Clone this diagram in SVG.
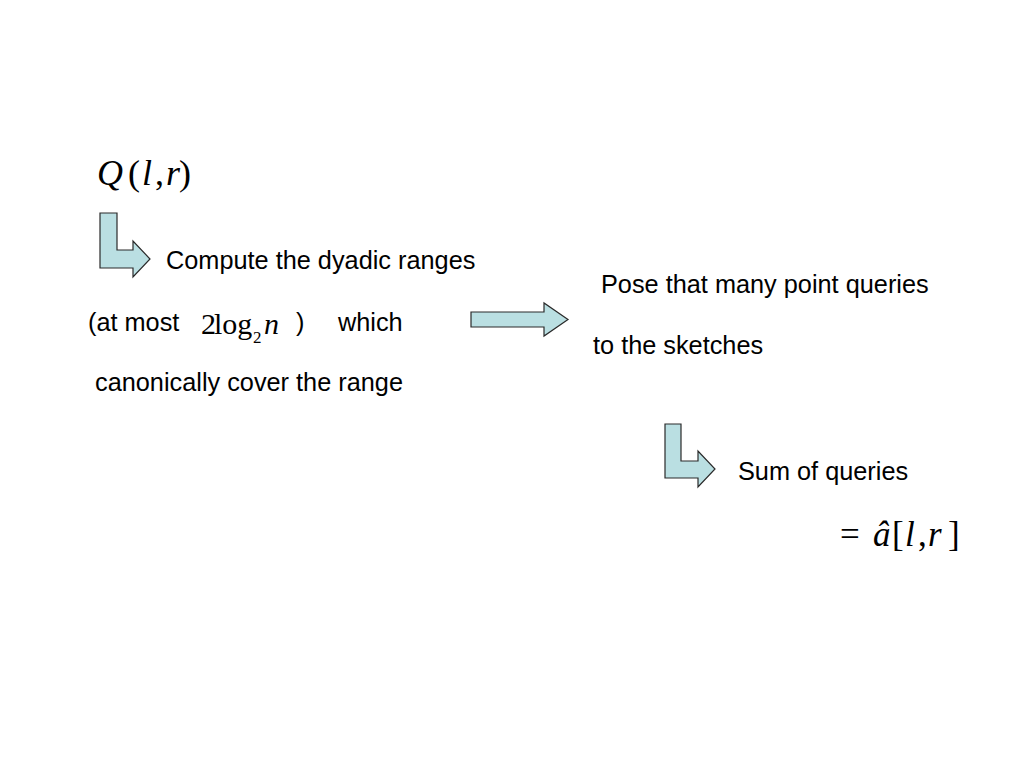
<svg xmlns="http://www.w3.org/2000/svg" width="1024" height="768" viewBox="0 0 1024 768">
<style>
.t{font-family:"Liberation Sans",Arial,sans-serif;font-size:25.3px;fill:#000}
.m{font-family:"Liberation Serif","Times New Roman",serif;fill:#000}
.i{font-style:italic}
.arr{fill:#BADFE2;stroke:#2a2a2a;stroke-width:1.2;stroke-linejoin:miter}
</style>
<rect width="1024" height="768" fill="#fff"/>
<g id="connectors">
<path id="bent1" class="arr" d="M100,213 L117,213 L117,250 L133,250 L133,241 L150,259 L133,277 L133,268 L100,268 Z"/>
<path id="arrow2" class="arr" d="M471,312 L544,312 L544,303 L568,319.5 L544,336 L544,327 L471,327 Z"/>
<path id="bent3" class="arr" d="M665,424 L681,424 L681,461 L698,461 L698,451 L715,469 L698,487 L698,478 L665,478 Z"/>
</g>
<g id="node-query">
<text class="m" font-size="36" y="185"><tspan class="i" x="97">Q</tspan><tspan x="128">(</tspan><tspan class="i" x="142">l</tspan><tspan x="155">,</tspan><tspan class="i" x="166">r</tspan><tspan x="179">)</tspan></text>
</g>
<g id="node-dyadic">
<text class="t" x="166" y="269">Compute the dyadic ranges</text>
<text class="t" x="88" y="331">(at most</text>
<text class="m" font-size="30" y="334"><tspan x="201">2</tspan><tspan x="214">log</tspan><tspan x="253" y="343" font-size="17">2</tspan><tspan class="i" x="264" y="334">n</tspan></text>
<text class="t" x="296" y="331">)</text>
<text class="t" x="338" y="331">which</text>
<text class="t" x="95" y="391">canonically cover the range</text>
</g>
<g id="node-pose">
<text class="t" x="601" y="293">Pose that many point queries</text>
<text class="t" x="593" y="354">to the sketches</text>
</g>
<g id="node-sum">
<text class="t" x="738" y="480">Sum of queries</text>
<text class="m" font-size="35" y="546"><tspan x="840">=</tspan><tspan class="i" x="873">â</tspan><tspan x="892">[</tspan><tspan class="i" x="905">l</tspan><tspan x="918">,</tspan><tspan class="i" x="928">r</tspan><tspan x="948">]</tspan></text>
</g>
</svg>
